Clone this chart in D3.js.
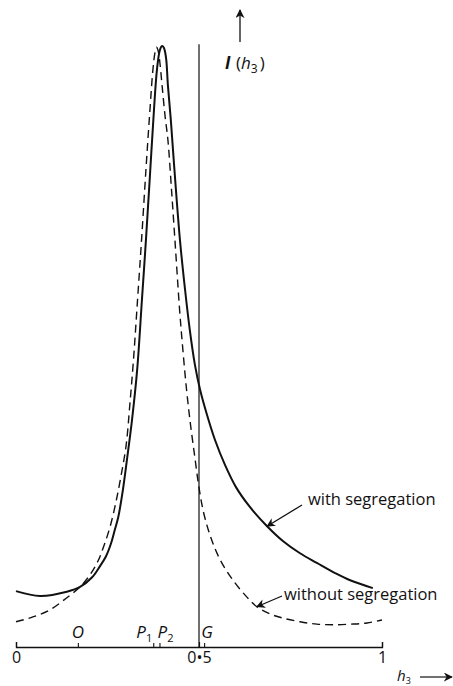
<!DOCTYPE html>
<html>
<head>
<meta charset="utf-8">
<script src="https://cdn.jsdelivr.net/npm/d3@7/dist/d3.min.js"></script>
<style>
  html, body { margin: 0; padding: 0; background: #fff; }
  svg { display: block; }
  text { font-family: "Open Sans", Lato, sans-serif; fill: #111; }
</style>
</head>
<body>
<svg id="chart" width="453" height="686"></svg>
<script>
// Intensity I(h3) along h3, peak normalised to 100
const hWith    = [0, 0.066, 0.139, 0.175, 0.208, 0.230, 0.246, 0.260, 0.270, 0.279, 0.290, 0.303, 0.317, 0.331, 0.344, 0.355, 0.366, 0.377, 0.385, 0.393, 0.399, 0.404, 0.410, 0.415, 0.423, 0.434, 0.448, 0.462, 0.475, 0.489, 0.503, 0.522, 0.544, 0.571, 0.601, 0.639, 0.686, 0.730, 0.776, 0.822, 0.872, 0.913, 0.975];
const iWith    = [9.3, 8.5, 9.2, 10.0, 11.6, 13.5, 15.1, 17.3, 19.5, 21.5, 25.3, 31.1, 37.8, 46.1, 57.7, 67.7, 78.5, 89.4, 96.0, 99.3, 100, 99.7, 98.0, 93.5, 87.7, 78.5, 67.7, 59.4, 52.7, 46.9, 42.8, 38.6, 34.4, 30.3, 26.6, 23.3, 20.1, 17.6, 15.6, 14.0, 12.3, 11.1, 9.8];
const hWithout = [0, 0.046, 0.093, 0.139, 0.175, 0.202, 0.224, 0.240, 0.257, 0.273, 0.287, 0.301, 0.311, 0.321, 0.332, 0.343, 0.355, 0.366, 0.374, 0.380, 0.384, 0.388, 0.393, 0.399, 0.407, 0.415, 0.425, 0.436, 0.447, 0.456, 0.466, 0.477, 0.489, 0.500, 0.514, 0.533, 0.557, 0.593, 0.631, 0.658, 0.694, 0.730, 0.776, 0.822, 0.866, 0.913, 0.959, 1.0];
const iWithout = [4.2, 5.0, 6.2, 8.2, 10.0, 12.0, 14.3, 16.8, 20.0, 24.1, 28.5, 33.6, 40.3, 47.8, 57.7, 67.7, 79.4, 89.4, 96.0, 99.0, 99.8, 99.3, 97.3, 93.5, 88.5, 84.4, 76.0, 66.1, 56.1, 49.4, 42.8, 36.9, 31.4, 26.5, 22.0, 18.1, 14.6, 11.1, 8.3, 6.7, 5.5, 4.8, 4.2, 3.8, 3.7, 3.8, 4.0, 4.5];

// Axis ticks and marked positions
const axisTicks  = [0, 0.5, 1];
const axisLabels = ["0", "0\u20225", "1"];
const markNames  = ["O", "P", "P", "G"];
const markSubs   = ["", "1", "2", ""];
const markPos    = [0.169, 0.375, 0.392, 0.514];
const gLine      = 0.5;

const svg = d3.select("#chart");
const x = d3.scaleLinear().domain([0, 1]).range([16, 382]);
const y = d3.scaleLinear().domain([0, 100]).range([647, 46]);

const line = d3.line()
  .x(d => x(d[0]))
  .y(d => y(d[1]))
  .curve(d3.curveCatmullRom.alpha(0.5));

const withData = hWith.map((h, i) => [h, iWith[i]]);
const withoutData = hWithout.map((h, i) => [h, iWithout[i]]);

// Curves
svg.append("path")
  .datum(withoutData)
  .attr("d", line)
  .attr("fill", "none")
  .attr("stroke", "#111")
  .attr("stroke-width", 1.4)
  .attr("stroke-dasharray", "8,5");

svg.append("path")
  .datum(withData)
  .attr("d", line)
  .attr("fill", "none")
  .attr("stroke", "#111")
  .attr("stroke-width", 2);

// Vertical line at h3 = 0.5
svg.append("line")
  .attr("x1", x(gLine)).attr("x2", x(gLine))
  .attr("y1", y(100.3)).attr("y2", y(0))
  .attr("stroke", "#111").attr("stroke-width", 1.2);

// Bottom axis: ticks point upward, labels below
const axis = d3.axisBottom(x)
  .tickValues(axisTicks)
  .tickFormat((d, i) => axisLabels[i])
  .tickSizeInner(-5)
  .tickSizeOuter(-5)
  .tickPadding(5);

const gAxis = svg.append("g")
  .attr("transform", `translate(0,${y(0)})`)
  .call(axis);
gAxis.select(".domain").attr("stroke", "#111").attr("stroke-width", 1.3);
gAxis.selectAll(".tick line").attr("stroke", "#111").attr("stroke-width", 1.2);
gAxis.selectAll(".tick text")
  .attr("fill", "#111")
  .style("font-family", "'Open Sans', sans-serif")
  .style("font-size", "16px");

// Marked positions on the axis
const markAxis = d3.axisTop(x)
  .tickValues(markPos)
  .tickFormat("")
  .tickSizeInner(4)
  .tickSizeOuter(0);
const gMarks = svg.append("g")
  .attr("transform", `translate(0,${y(0)})`)
  .call(markAxis);
gMarks.select(".domain").remove();
gMarks.selectAll(".tick line").attr("stroke", "#111").attr("stroke-width", 1.1);

const markOffsets = [0, -9, 6, 3];
markPos.forEach((p, i) => {
  const t = svg.append("text")
    .attr("x", x(p) + markOffsets[i])
    .attr("y", y(0) - 9)
    .attr("text-anchor", "middle")
    .style("font-style", "italic")
    .style("font-size", "17px")
    .text(markNames[i]);
  if (markSubs[i]) {
    t.append("tspan")
      .attr("dy", 4)
      .style("font-size", "11px")
      .style("font-style", "normal")
      .text(markSubs[i]);
  }
});

// Arrowhead marker
const defs = svg.append("defs");
defs.append("marker")
  .attr("id", "head")
  .attr("viewBox", "0 0 10 10")
  .attr("refX", 9).attr("refY", 5)
  .attr("markerWidth", 9).attr("markerHeight", 9)
  .attr("markerUnits", "userSpaceOnUse")
  .attr("orient", "auto")
  .append("path")
  .attr("d", "M0,0 L10,5 L0,10 L3,5 Z")
  .attr("fill", "#111");

// I(h3) axis arrow and title
svg.append("line")
  .attr("x1", 240).attr("y1", 42)
  .attr("x2", 240).attr("y2", 10)
  .attr("stroke", "#111").attr("stroke-width", 1.3)
  .attr("marker-end", "url(#head)");

const yt = svg.append("text")
  .attr("x", 225).attr("y", 69)
  .style("font-size", "17px");
yt.append("tspan").style("font-style", "italic").style("font-weight", "bold").text("I");
yt.append("tspan").attr("x", 236).text("(");
yt.append("tspan").style("font-style", "italic").text("h");
yt.append("tspan").attr("dy", 4).style("font-size", "12px").text("3");
yt.append("tspan").attr("dy", -4).attr("dx", 2).text(")");

// h3 axis title with arrow
const xt = svg.append("text")
  .attr("x", 397).attr("y", 681)
  .style("font-size", "15px");
xt.append("tspan").style("font-style", "italic").text("h");
xt.append("tspan").attr("dy", 3).style("font-size", "9px").text("3");

svg.append("line")
  .attr("x1", 420).attr("y1", 677)
  .attr("x2", 452).attr("y2", 677)
  .attr("stroke", "#111").attr("stroke-width", 1.2)
  .attr("marker-end", "url(#head)");

// Curve annotations
svg.append("text")
  .attr("x", 308).attr("y", 505)
  .style("font-size", "16.5px")
  .text("with segregation");
svg.append("line")
  .attr("x1", 302).attr("y1", 505)
  .attr("x2", x(0.686)).attr("y2", y(20.1))
  .attr("stroke", "#111").attr("stroke-width", 1.3)
  .attr("marker-end", "url(#head)");

svg.append("text")
  .attr("x", 284).attr("y", 600)
  .style("font-size", "16.5px")
  .text("without segregation");
svg.append("line")
  .attr("x1", 282).attr("y1", 596)
  .attr("x2", x(0.658)).attr("y2", y(6.7))
  .attr("stroke", "#111").attr("stroke-width", 1.3)
  .attr("marker-end", "url(#head)");
</script>
</body>
</html>
